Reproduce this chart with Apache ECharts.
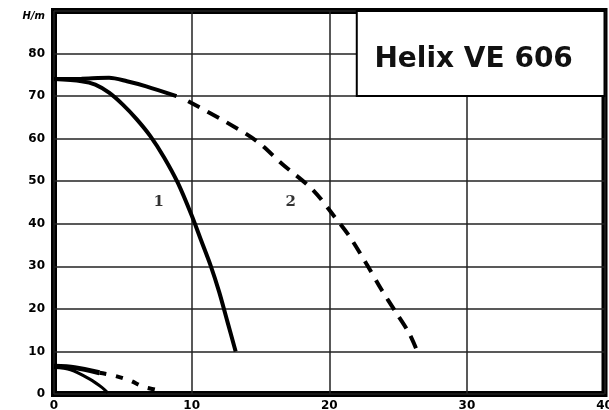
<!DOCTYPE html>
<html>
<head>
<meta charset="utf-8">
<script src="https://cdn.jsdelivr.net/npm/echarts@6/dist/echarts.min.js"></script>
<style>html,body{margin:0;padding:0;background:#fff}#c{width:609px;height:410px}</style>
</head>
<body>
<div id="c"></div>
<script>
// Axis ticks
const xTicks = [0, 10, 20, 30, 40];
const yTicks = [0, 10, 20, 30, 40, 50, 60, 70, 80, 90];
const yUnitLabel = 'H/m';
const chartTitle = 'Helix VE 606';

// Curve 1 (solid)
const c1x = [0, 2, 3, 4, 5, 6, 7, 8, 9, 10, 10.7, 11.4, 12, 12.6, 13.2];
const c1y = [74, 73.5, 72.7, 70.8, 68, 64.6, 60.6, 55.6, 49.6, 42, 36, 30, 24, 17, 10];

// Curve 2 (solid part, then dashed part)
const c2sx = [0, 2, 4, 5.3, 6.7, 8.9];
const c2sy = [74, 74.1, 74.3, 73.5, 72.3, 70];
const c2dx = [9.75, 12.4, 14.7, 16.6, 18.8, 20.3, 21.5, 22.7, 23.8, 24.8, 25.8, 26.4];
const c2dy = [68.8, 64.1, 59.5, 54, 48, 42, 36.9, 30.6, 24.5, 19.4, 14.3, 10];

// Small curve 3 (solid, bottom-left)
const c3x = [0, 1.2, 2.6, 3.5, 3.9];
const c3y = [6.2, 5.7, 3.5, 1.5, 0.3];

// Small curve 4 (thick solid, then dashed)
const c4sx = [0, 1.5, 3.3];
const c4sy = [6.5, 6.2, 5.0];
const c4dx = [3.3, 4.4, 5.5, 6.5, 7.5, 8.0];
const c4dy = [5.0, 4.3, 3.2, 1.7, 0.9, 0.2];

// Curve labels
const curveLabels = ['1', '2'];
const curveLabelX = [7.6, 17.2];
const curveLabelY = [45.1, 45.0];

// Title box extent (data units)
const boxX = [22, 40];
const boxY = [70, 90];

const zip = (a, b) => a.map((v, i) => [v, b[i]]);

const chart = echarts.init(document.getElementById('c'));
const lineBase = { type: 'line', symbol: 'none', smooth: 0.3, silent: true, z: 3 };

chart.setOption({
  animation: false,
  grid: { left: 54, right: 4.5, top: 11, bottom: 16, outerBoundsMode: 'none', containLabel: false, show: true, borderColor: '#000', borderWidth: 6, backgroundColor: '#fff' },
  xAxis: {
    type: 'value', min: xTicks[0], max: xTicks[xTicks.length - 1], interval: 10,
    axisLine: { show: false }, axisTick: { show: false },
    splitLine: { show: true, lineStyle: { color: '#222', width: 1.5 } },
    axisLabel: { margin: 6, color: '#000', fontFamily: 'DejaVu Sans', fontWeight: 'bold', fontSize: 12 }
  },
  yAxis: {
    type: 'value', min: yTicks[0], max: yTicks[yTicks.length - 1], interval: 10,
    axisLine: { show: false }, axisTick: { show: false },
    splitLine: { show: true, lineStyle: { color: '#222', width: 1.5 } },
    axisLabel: {
      margin: 9, color: '#000', fontFamily: 'DejaVu Sans', fontWeight: 'bold', fontSize: 12,
      formatter: v => v === 90 ? '{u|' + yUnitLabel + '}' : String(v),
      rich: { u: { fontFamily: 'DejaVu Sans', fontWeight: 'bold', fontStyle: 'italic', fontSize: 10, color: '#000', padding: [10, 0, 0, 0] } }
    }
  },
  series: [
    Object.assign({}, lineBase, { data: zip(c1x, c1y), lineStyle: { color: '#000', width: 4 },
      markArea: {
        silent: true,
        itemStyle: { color: '#fff', borderColor: '#000', borderWidth: 2 },
        label: { show: true, position: 'inside', offset: [-7, 6], formatter: chartTitle, color: '#111', fontFamily: 'DejaVu Sans', fontWeight: 'bold', fontSize: 28 },
        data: [[{ xAxis: boxX[0], yAxis: boxY[0] }, { xAxis: boxX[1], yAxis: boxY[1] }]]
      } }),
    Object.assign({}, lineBase, { data: zip(c2sx, c2sy), lineStyle: { color: '#000', width: 4 } }),
    Object.assign({}, lineBase, { data: zip(c2dx, c2dy), lineStyle: { color: '#000', width: 4, type: [13, 9] } }),
    Object.assign({}, lineBase, { data: zip(c3x, c3y), lineStyle: { color: '#000', width: 3 } }),
    Object.assign({}, lineBase, { data: zip(c4sx, c4sy), lineStyle: { color: '#000', width: 5 } }),
    Object.assign({}, lineBase, { data: zip(c4dx, c4dy), lineStyle: { color: '#000', width: 4, type: [7, 10] } }),
    {
      type: 'scatter', symbolSize: 1, itemStyle: { color: 'rgba(0,0,0,0)' }, silent: true, z: 4,
      data: curveLabelX.map((x, i) => ({ value: [x, curveLabelY[i]], name: curveLabels[i] })),
      label: { show: true, position: 'inside', formatter: p => p.name, color: '#000', fontFamily: 'DejaVu Serif', fontWeight: 'bold', fontSize: 15 }
    }
  ]
});
</script>
</body>
</html>
